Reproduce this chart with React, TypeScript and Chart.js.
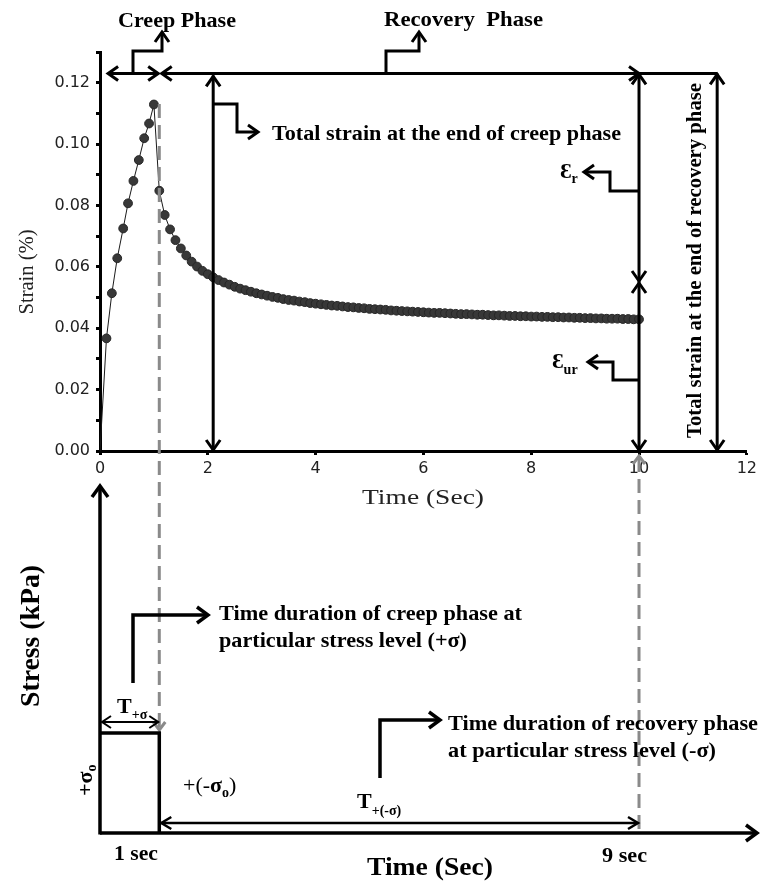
import { useEffect, useRef } from 'react';
import { Chart, registerables } from 'chart.js';
Chart.register(...registerables);

// ---- data ----
const creepTime = [0, 0.12, 0.22, 0.32, 0.43, 0.52, 0.62, 0.72, 0.82, 0.91, 1.0];
const creepStrain = [0, 0.0367, 0.0514, 0.0628, 0.0725, 0.0807, 0.088, 0.0948, 0.1019, 0.1067, 0.1129];

const recoveryTime = [
  1.1, 1.2, 1.3, 1.4, 1.5, 1.6, 1.7, 1.8, 1.9, 2.0,
  2.1, 2.2, 2.3, 2.4, 2.5, 2.6, 2.7, 2.8, 2.9, 3.0,
  3.1, 3.2, 3.3, 3.4, 3.5, 3.6, 3.7, 3.8, 3.9, 4.0,
  4.1, 4.2, 4.3, 4.4, 4.5, 4.6, 4.7, 4.8, 4.9, 5.0,
  5.1, 5.2, 5.3, 5.4, 5.5, 5.6, 5.7, 5.8, 5.9, 6.0,
  6.1, 6.2, 6.3, 6.4, 6.5, 6.6, 6.7, 6.8, 6.9, 7.0,
  7.1, 7.2, 7.3, 7.4, 7.5, 7.6, 7.7, 7.8, 7.9, 8.0,
  8.1, 8.2, 8.3, 8.4, 8.5, 8.6, 8.7, 8.8, 8.9, 9.0,
  9.1, 9.2, 9.3, 9.4, 9.5, 9.6, 9.7, 9.8, 9.9, 10.0,
];
const recoveryStrain = [
  0.0848, 0.0769, 0.0722, 0.0687, 0.066, 0.0637, 0.0617, 0.0601, 0.0587, 0.0576,
  0.0566, 0.0557, 0.0549, 0.0542, 0.0535, 0.0529, 0.0524, 0.0519, 0.0514, 0.051,
  0.0506, 0.0502, 0.0499, 0.0495, 0.0492, 0.049, 0.0487, 0.0485, 0.0482, 0.048,
  0.0478, 0.0476, 0.0474, 0.0473, 0.0471, 0.0469, 0.0468, 0.0466, 0.0465, 0.0463,
  0.0462, 0.0461, 0.046, 0.0458, 0.0457, 0.0456, 0.0455, 0.0454, 0.0453, 0.0452,
  0.0451, 0.045, 0.045, 0.0449, 0.0448, 0.0447, 0.0446, 0.0446, 0.0445, 0.0444,
  0.0444, 0.0443, 0.0442, 0.0442, 0.0441, 0.044, 0.044, 0.0439, 0.0439, 0.0438,
  0.0438, 0.0437, 0.0437, 0.0436, 0.0436, 0.0435, 0.0435, 0.0434, 0.0434, 0.0433,
  0.0433, 0.0432, 0.0432, 0.0431, 0.0431, 0.0431, 0.043, 0.043, 0.0429, 0.0429,
];

const xMin = 0;
const xMax = 12;
const xStep = 2;
const yMin = 0;
const yMax = 0.13;
const yStep = 0.01;

const SERIF = "'Liberation Serif', 'Times New Roman', 'DejaVu Serif', serif";
const SANS = "'DejaVu Sans', 'Liberation Sans', sans-serif";

type Seg = { t: string; font: string; dy?: number };

function txt(
  ctx: CanvasRenderingContext2D,
  s: string,
  x: number,
  y: number,
  font: string,
  opts: { width?: number; align?: CanvasTextAlign; rot?: number; color?: string } = {}
) {
  ctx.save();
  ctx.font = font;
  ctx.fillStyle = opts.color || '#000';
  ctx.textBaseline = 'alphabetic';
  ctx.textAlign = opts.align || 'left';
  const w = ctx.measureText(s).width;
  const sx = opts.width ? opts.width / w : 1;
  ctx.translate(x, y);
  if (opts.rot) ctx.rotate(opts.rot);
  ctx.scale(sx, 1);
  ctx.fillText(s, 0, 0);
  ctx.restore();
}

function rich(ctx: CanvasRenderingContext2D, segs: Seg[], x: number, y: number, rot = 0) {
  ctx.save();
  ctx.translate(x, y);
  if (rot) ctx.rotate(rot);
  ctx.fillStyle = '#000';
  ctx.textAlign = 'left';
  ctx.textBaseline = 'alphabetic';
  let cx = 0;
  for (const s of segs) {
    ctx.font = s.font;
    ctx.fillText(s.t, cx, s.dy || 0);
    cx += ctx.measureText(s.t).width;
  }
  ctx.restore();
}

function line(ctx: CanvasRenderingContext2D, pts: number[][], w = 3, color = '#000', dash: number[] = []) {
  ctx.save();
  ctx.strokeStyle = color;
  ctx.lineWidth = w;
  ctx.setLineDash(dash);
  ctx.lineJoin = 'miter';
  ctx.lineCap = 'butt';
  ctx.beginPath();
  ctx.moveTo(pts[0][0], pts[0][1]);
  for (let i = 1; i < pts.length; i++) ctx.lineTo(pts[i][0], pts[i][1]);
  ctx.stroke();
  ctx.restore();
}

function head(
  ctx: CanvasRenderingContext2D,
  x: number,
  y: number,
  dir: 'up' | 'down' | 'left' | 'right',
  w = 3,
  color = '#000',
  len = 10,
  half = 7
) {
  let p: number[][] = [];
  if (dir === 'up') p = [[x - half, y + len], [x, y], [x + half, y + len]];
  if (dir === 'down') p = [[x - half, y - len], [x, y], [x + half, y - len]];
  if (dir === 'left') p = [[x + len, y - half], [x, y], [x + len, y + half]];
  if (dir === 'right') p = [[x - len, y - half], [x, y], [x - len, y + half]];
  line(ctx, p, w, color);
}

const annotations = {
  id: 'annotations',
  afterDraw(chart: any) {
    const ctx: CanvasRenderingContext2D = chart.ctx;
    const xs = chart.scales.x;
    const ys = chart.scales.y;
    const X = (v: number) => xs.getPixelForValue(v);
    const Y = (v: number) => ys.getPixelForValue(v);

    const yTop = Y(0.123);
    const y0 = Y(0);
    const xDash = X(1.1);
    const x10 = X(10);
    const xTot = X(11.45);
    const x21 = X(2.1);
    const xMid = 282;

    // dashed guide lines
    line(ctx, [[xDash, 104], [xDash, 728]], 3, '#8a8a8a', [14, 7]);
    head(ctx, xDash, 730, 'down', 3, '#8a8a8a', 8, 6);
    line(ctx, [[x10, 458], [x10, 833]], 3, '#8a8a8a', [14, 7]);
    head(ctx, x10, 456, 'up', 3, '#8a8a8a', 8, 6);

    // top phase arrows
    const xCL = X(0.15);
    const xCR = X(1.08);
    const xRL = X(1.145);
    line(ctx, [[xCL, yTop], [xCR, yTop]]);
    head(ctx, xCL, yTop, 'left');
    head(ctx, xCR, yTop, 'right');
    line(ctx, [[xRL, yTop], [xTot, yTop]]);
    head(ctx, xRL, yTop, 'left');
    head(ctx, x10, yTop, 'right');

    // phase label connectors
    line(ctx, [[133, yTop], [133, 51], [162, 51], [162, 33]]);
    head(ctx, 162, 32, 'up');
    line(ctx, [[386, yTop], [386, 51], [419, 51], [419, 33]]);
    head(ctx, 419, 32, 'up');

    // vertical at t = 2.1
    line(ctx, [[x21, yTop + 2], [x21, y0 - 1]]);
    head(ctx, x21, yTop + 3, 'up');
    head(ctx, x21, y0 - 1, 'down');
    line(ctx, [[x21, 104], [237, 104], [237, 132], [257, 132]]);
    head(ctx, 258, 132, 'right');

    // vertical at t = 10
    line(ctx, [[x10, yTop], [x10, y0]]);
    head(ctx, x10, yTop + 1, 'up');
    head(ctx, x10, xMid - 1, 'down');
    head(ctx, x10, xMid + 1, 'up');
    head(ctx, x10, y0 - 1, 'down');
    line(ctx, [[x10, 191], [610, 191], [610, 172], [585, 172]]);
    head(ctx, 584, 172, 'left');
    line(ctx, [[x10, 380], [613, 380], [613, 362], [589, 362]]);
    head(ctx, 588, 362, 'left');

    // vertical total strain at end of recovery
    line(ctx, [[xTot, yTop], [xTot, y0 - 1]]);
    head(ctx, xTot, yTop + 1, 'up');
    head(ctx, xTot, y0 - 1, 'down');

    // ---- lower stress diagram ----
    const axisY = 833;
    const boxTop = 733;
    const x0 = X(0);
    line(ctx, [[x0, axisY + 1.5], [x0, 487]], 3.5);
    head(ctx, x0, 486, 'up', 3.5, '#000', 11, 8);
    line(ctx, [[x0, axisY], [756, axisY]], 3.5);
    head(ctx, 757, axisY, 'right', 3.5, '#000', 11, 8);
    line(ctx, [[x0, boxTop], [xDash, boxTop], [xDash, axisY]], 3.5);

    // T+sigma arrow
    line(ctx, [[x0 + 2, 722], [xDash - 2, 722]], 2);
    head(ctx, x0 + 2, 722, 'left', 2, '#000', 9, 6);
    head(ctx, xDash - 1, 722, 'right', 2, '#000', 9, 6);

    // creep duration connector
    line(ctx, [[133, 683], [133, 615], [206, 615]], 3.5);
    head(ctx, 208, 615, 'right', 3.5, '#000', 11, 8);

    // recovery arrow
    line(ctx, [[xDash + 2, 823], [x10 - 2, 823]], 2.5);
    head(ctx, xDash + 2, 823, 'left', 2.5, '#000', 10, 6);
    head(ctx, x10 - 1, 823, 'right', 2.5, '#000', 10, 6);

    // recovery duration connector
    line(ctx, [[380, 778], [380, 720], [438, 720]], 3.5);
    head(ctx, 440, 720, 'right', 3.5, '#000', 11, 8);

    // ---- texts ----
    const B = (s: number) => `bold ${s}px ${SERIF}`;
    const R = (s: number) => `${s}px ${SERIF}`;
    txt(ctx, 'Creep Phase', 118, 26.5, B(21), { width: 118 });
    txt(ctx, 'Recovery  Phase', 384, 26, B(21), { width: 159 });
    txt(ctx, 'Total strain at the end of creep phase', 272, 140, B(20), { width: 349 });
    rich(ctx, [{ t: 'Ɛ', font: B(22) }, { t: 'r', font: B(14), dy: 5 }], 560, 178);
    rich(ctx, [{ t: 'Ɛ', font: B(22) }, { t: 'ur', font: B(14), dy: 6 }], 552, 368);
    txt(ctx, 'Total strain at the end of recovery phase', 701, 260.5, B(20), {
      width: 355,
      align: 'center',
      rot: -Math.PI / 2,
    });
    txt(ctx, 'Strain (%)', 33, 272, R(20), { width: 85, align: 'center', rot: -Math.PI / 2, color: '#222' });
    txt(ctx, 'Time (Sec)', 362, 504, R(21), { width: 122, color: '#222' });

    txt(ctx, 'Time duration of creep phase at', 219, 620, B(22), { width: 303 });
    txt(ctx, 'particular stress level (+σ)', 219, 647, B(22), { width: 248 });
    rich(ctx, [{ t: 'T', font: B(22) }, { t: '+σ', font: B(14), dy: 6 }], 117, 713);
    rich(
      ctx,
      [
        { t: '+(-', font: R(22) },
        { t: 'σ', font: B(22) },
        { t: 'o', font: B(14), dy: 5 },
        { t: ')', font: R(22) },
      ],
      183,
      792
    );
    rich(ctx, [{ t: 'T', font: B(22) }, { t: '+(-σ)', font: B(14), dy: 7 }], 357, 808);
    txt(ctx, 'Time duration of recovery phase', 448, 730, B(22), { width: 310 });
    txt(ctx, 'at particular stress level (-σ)', 448, 757, B(22), { width: 268 });
    txt(ctx, '1 sec', 114, 860, B(20), { width: 44 });
    txt(ctx, '9 sec', 602, 861.5, B(20), { width: 45 });
    txt(ctx, 'Time (Sec)', 367, 875, B(25), { width: 126 });
    txt(ctx, 'Stress (kPa)', 39, 636, B(27), { width: 142, align: 'center', rot: -Math.PI / 2 });
    rich(ctx, [{ t: '+σ', font: B(22) }, { t: 'o', font: B(14), dy: 4 }], 92, 796, -Math.PI / 2);
  },
};

export default function App() {
  const ref = useRef<HTMLCanvasElement | null>(null);
  useEffect(() => {
    if (!ref.current) return;
    const pts = [
      ...creepTime.map((t, i) => ({ x: t, y: creepStrain[i] })),
      ...recoveryTime.map((t, i) => ({ x: t, y: recoveryStrain[i] })),
    ];
    const chart = new Chart(ref.current, {
      type: 'line',
      data: {
        datasets: [
          {
            data: pts,
            borderColor: '#1a1a1a',
            borderWidth: 1,
            pointRadius: (c: any) => (c.dataIndex === 0 ? 0 : 4.4),
            pointBackgroundColor: '#383838',
            pointBorderColor: '#262626',
            pointBorderWidth: 1,
            tension: 0,
          },
        ],
      },
      options: {
        responsive: false,
        animation: false,
        events: [],
        layout: { padding: { left: 0, right: 14, top: 52, bottom: 403 } },
        plugins: { legend: { display: false }, tooltip: { enabled: false } },
        scales: {
          x: {
            type: 'linear',
            min: xMin,
            max: xMax,
            afterFit: (s: any) => {
              s.height = 30;
            },
            ticks: { stepSize: xStep, color: '#222', font: { family: SANS, size: 16 }, padding: 4 },
            grid: { drawOnChartArea: false, drawTicks: true, tickLength: 4, tickWidth: 3, tickColor: '#000' },
            border: { display: true, color: '#000', width: 3 },
          },
          y: {
            type: 'linear',
            min: yMin,
            max: yMax,
            afterFit: (s: any) => {
              s.width = 100;
            },
            ticks: {
              stepSize: yStep,
              color: '#222',
              font: { family: SANS, size: 16 },
              padding: 6,
              callback: (v: any) => (Math.round(Number(v) * 100) % 2 === 0 ? Number(v).toFixed(2) : ''),
            },
            grid: { drawOnChartArea: false, drawTicks: true, tickLength: 4, tickWidth: 3, tickColor: '#000' },
            border: { display: true, color: '#000', width: 3 },
          },
        },
      },
      plugins: [annotations],
    });
    return () => chart.destroy();
  }, []);
  return (
    <div style={{ position: 'absolute', left: 0, top: 0, width: 761, height: 884, background: '#fff' }}>
      <canvas ref={ref} width={761} height={884} style={{ display: 'block' }} />
    </div>
  );
}
